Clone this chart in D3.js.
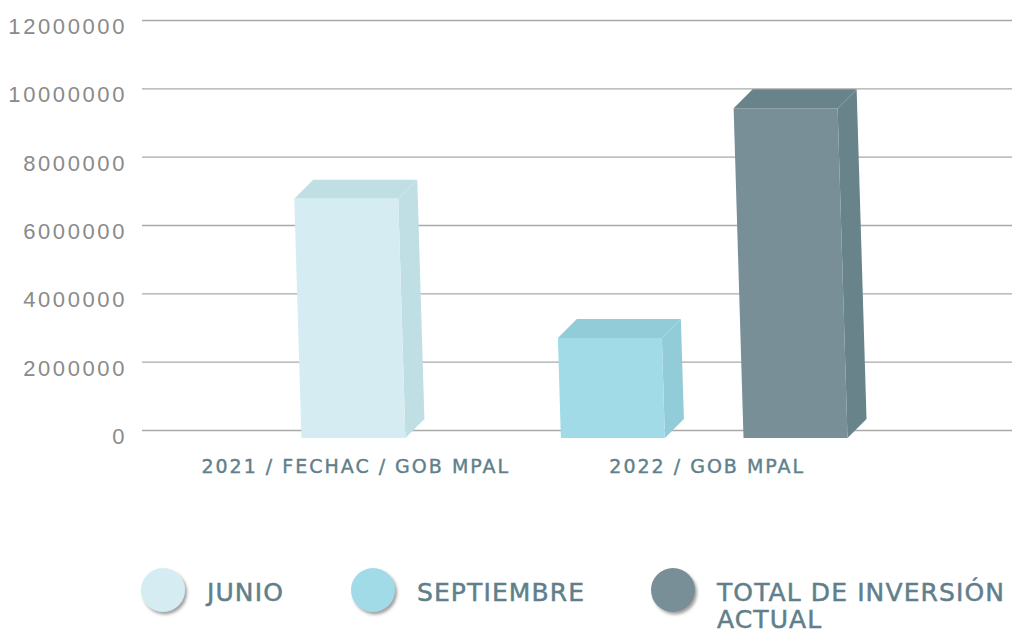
<!DOCTYPE html>
<html>
<head>
<meta charset="utf-8">
<script src="https://cdn.jsdelivr.net/npm/d3@7"></script>
<style>
  body { margin: 0; background: #fff; }
  svg { display: block; font-family: "DejaVu Sans", sans-serif; }
</style>
</head>
<body>
<svg id="chart" width="1016" height="635"></svg>
<script>
const categories = ["2021 / FECHAC / GOB MPAL", "2022 / GOB MPAL"];
const seriesNames = ["JUNIO", "SEPTIEMBRE", "TOTAL DE INVERSIÓN ACTUAL"];
const junio = [7000000, null];
const septiembre = [null, 2930000];
const totalInversion = [null, 9650000];
const yTicks = [0, 2000000, 4000000, 6000000, 8000000, 10000000, 12000000];

const seriesValues = [junio, septiembre, totalInversion];
const colors = {
    "JUNIO": { front: "#d5edf2", side: "#c0dfe4" },
    "SEPTIEMBRE": { front: "#a2dbe8", side: "#92ccd8" },
    "TOTAL DE INVERSIÓN ACTUAL": { front: "#788f98", side: "#68838a" }
};

const svg = d3.select("#chart");
const gridLeft = 142, gridRight = 1012;
const depth = 19, drop = 8, barW = 104;

const y = d3.scaleLinear().domain([0, 12000000]).range([430, 20]);
const x = d3.scaleBand().domain(categories).range([180, 883]);

// gridlines + y labels
const yAxis = svg.append("g")
    .attr("transform", `translate(${gridLeft},0)`)
    .call(d3.axisLeft(y).tickValues(yTicks).tickFormat(d3.format("d"))
        .tickSize(-(gridRight - gridLeft)).tickPadding(15));
yAxis.select(".domain").remove();
yAxis.selectAll(".tick line").attr("stroke", "#a9a9a9").attr("stroke-width", 1.3);
yAxis.selectAll(".tick text")
    .attr("fill", "#8a8a8a")
    .attr("dy", "0.62em")
    .style("font-size", "22px")
    .style("letter-spacing", "2.6px");

// bars
const bars = [];
categories.forEach((cat, ci) => {
    const present = seriesNames.filter((s, si) => seriesValues[si][ci] != null);
    const sub = d3.scaleBand().domain(present).range([x(cat), x(cat) + x.bandwidth()]);
    present.forEach(s => {
        const v = seriesValues[seriesNames.indexOf(s)][ci];
        bars.push({ cat, s, v, cx: sub(s) + sub.bandwidth() / 2 - depth / 2 });
    });
});

const barG = svg.append("g");
bars.forEach(b => {
    const L = b.cx - barW / 2, R = b.cx + barW / 2;
    const top = y(b.v) + drop, bottom = y(0) + drop;
    const sh = (bottom - top) * 0.03;
    const c = colors[b.s];
    const pts = p => p.map(q => q.join(",")).join(" ");
    barG.append("polygon")
        .attr("points", pts([[R, top], [R + depth, top - depth], [R + sh + depth, bottom - depth], [R + sh, bottom]]))
        .attr("fill", c.side);
    barG.append("polygon")
        .attr("points", pts([[L, top], [L + depth, top - depth], [R + depth, top - depth], [R, top]]))
        .attr("fill", c.side);
    barG.append("polygon")
        .attr("points", pts([[L, top], [R, top], [R + sh, bottom], [L + sh, bottom]]))
        .attr("fill", c.front);
});

// category labels
svg.append("g").selectAll("text")
    .data(categories)
    .join("text")
    .attr("x", d => x(d) + x.bandwidth() / 2)
    .attr("y", 473)
    .attr("text-anchor", "middle")
    .attr("fill", "#5f808b")
    .attr("stroke", "#5f808b")
    .attr("stroke-width", 0.4)
    .style("font-size", "19px")
    .style("letter-spacing", "2px")
    .text(d => d);

// legend
const defs = svg.append("defs");
defs.append("filter").attr("id", "shadow")
    .attr("x", "-30%").attr("y", "-30%").attr("width", "170%").attr("height", "170%")
    .append("feDropShadow")
    .attr("dx", 2).attr("dy", 2.5).attr("stdDeviation", 1.5)
    .attr("flood-color", "#777").attr("flood-opacity", 0.7);

const legendX = [163, 373, 673];
const legend = svg.append("g").selectAll("g")
    .data(seriesNames)
    .join("g")
    .attr("transform", (d, i) => `translate(${legendX[i]},590)`);
legend.append("circle")
    .attr("r", 22)
    .attr("fill", d => colors[d].front)
    .attr("filter", "url(#shadow)");
legend.append("text")
    .attr("x", 44)
    .attr("y", 11)
    .attr("fill", "#5f808b")
    .attr("stroke", "#5f808b")
    .attr("stroke-width", 0.5)
    .style("font-size", "25px")
    .style("letter-spacing", "1.1px")
    .each(function (d) {
        const t = d3.select(this);
        const words = d.split(" ");
        let line = [];
        let tspan = t.append("tspan").attr("x", 44).attr("dy", 0);
        words.forEach(w => {
            line.push(w);
            tspan.text(line.join(" "));
            if (tspan.node().getComputedTextLength() > 296 && line.length > 1) {
                line.pop();
                tspan.text(line.join(" "));
                line = [w];
                tspan = t.append("tspan").attr("x", 44).attr("dy", 27).text(w);
            }
        });
    });
</script>
</body>
</html>
